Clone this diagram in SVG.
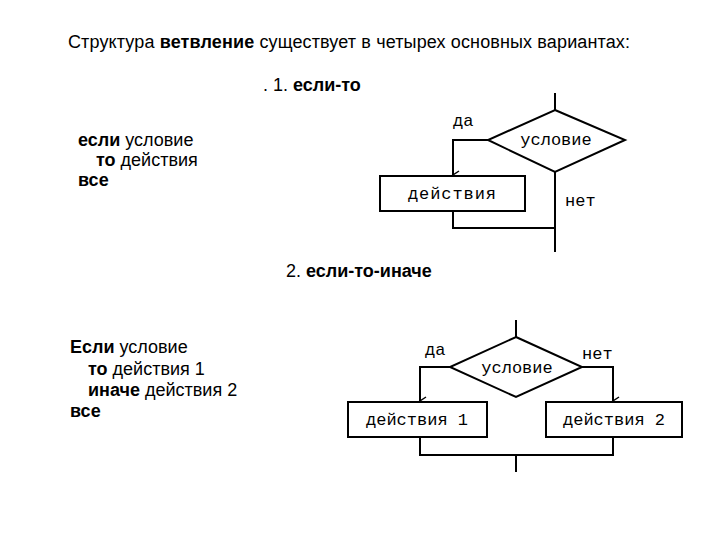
<svg xmlns="http://www.w3.org/2000/svg" width="720" height="540" viewBox="0 0 720 540">
<style>
.t{font-family:"Liberation Sans",Arial,sans-serif;font-size:18px;fill:#000}
.m{font-family:"Liberation Mono","Courier New",monospace;font-size:17px;fill:#000}
.s{fill:#fff;stroke:#000;stroke-width:2}
.c{fill:none;stroke:#000;stroke-width:2}
</style>
<defs><marker id="a" markerWidth="10" markerHeight="10" refX="5" refY="8" orient="auto" markerUnits="userSpaceOnUse"><path d="M1,2 L5,8 L9,2" fill="none" stroke="#000" stroke-width="1.5"/></marker></defs>
<rect width="720" height="540" fill="#fff"/>
<text class="t" x="68" y="48" textLength="562">Структура <tspan font-weight="bold">ветвление</tspan> существует в четырех основных вариантах:</text>
<text class="t" x="263" y="91">. 1. <tspan font-weight="bold">если-то</tspan></text>
<text class="t" x="78" y="146"><tspan font-weight="bold">если</tspan> условие</text>
<text class="t" x="96" y="166"><tspan font-weight="bold">то</tspan> действия</text>
<text class="t" x="78" y="186"><tspan font-weight="bold">все</tspan></text>
<text class="t" x="286" y="277">2. <tspan font-weight="bold">если-то-иначе</tspan></text>
<text class="t" x="70" y="353"><tspan font-weight="bold">Если</tspan> условие</text>
<text class="t" x="88" y="375"><tspan font-weight="bold">то</tspan> действия 1</text>
<text class="t" x="88" y="396"><tspan font-weight="bold">иначе</tspan> действия 2</text>
<text class="t" x="70" y="417"><tspan font-weight="bold">все</tspan></text>
<g id="connectors">
<path class="c" d="M555,93 V110" stroke-width="3"/>
<path class="c" d="M488,140 H453 V175" marker-end="url(#a)"/>
<path class="c" d="M453,211 V228 H555"/>
<path class="c" d="M555,172 V252"/>
<path class="c" d="M516,320 V337" stroke-width="3"/>
<path class="c" d="M450,367 H420 V401" marker-end="url(#a)"/>
<path class="c" d="M582,367 H613 V401" marker-end="url(#a)"/>
<path class="c" d="M420,437 V455 H613 V437"/>
<path class="c" d="M516,455 V472" stroke-width="3"/>
</g>
<g id="cond1"><polygon class="s" points="555,110 625,140 555,172 488,140"/><text class="m" x="556" y="145" text-anchor="middle">условие</text></g>
<g id="act1"><rect class="s" x="380" y="176" width="145" height="35"/><text class="m" x="452" y="199" text-anchor="middle" textLength="88">действия</text></g>
<text class="m" x="453" y="126">да</text>
<text class="m" x="565" y="206">нет</text>
<g id="cond2"><polygon class="s" points="516,337 582,367 516,397 450,367"/><text class="m" x="517" y="373" text-anchor="middle">условие</text></g>
<g id="act21"><rect class="s" x="348" y="402" width="139" height="35"/><text class="m" x="417" y="425" text-anchor="middle">действия 1</text></g>
<g id="act22"><rect class="s" x="546" y="402" width="136" height="35"/><text class="m" x="614" y="425" text-anchor="middle">действия 2</text></g>
<text class="m" x="425" y="355">да</text>
<text class="m" x="582" y="359">нет</text>
</svg>
